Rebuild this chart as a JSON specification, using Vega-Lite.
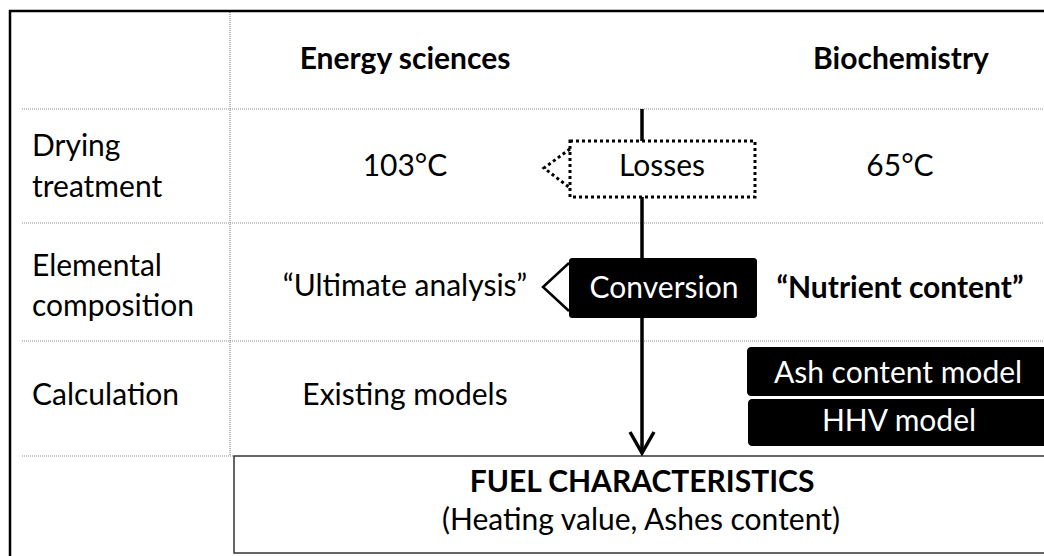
{
  "$schema": "https://vega.github.io/schema/vega-lite/v6.json",
  "width": 1044,
  "height": 556,
  "padding": 0,
  "autosize": {"type": "none"},
  "background": "white",
  "config": {"view": {"stroke": null}, "axis": {"disable": true}},
  "encoding": {
    "x": {"field": "x", "type": "quantitative", "scale": {"domain": [0, 1044], "range": [0, 1044], "zero": false, "nice": false}, "axis": null},
    "y": {"field": "y", "type": "quantitative", "scale": {"domain": [0, 556], "range": [0, 556], "zero": false, "nice": false}, "axis": null}
  },
  "layer": [
    {
      "data": {"values": [
        {"x": 230, "y": 10, "x2": 230, "y2": 456},
        {"x": 22, "y": 109, "x2": 1044, "y2": 109},
        {"x": 22, "y": 223, "x2": 1044, "y2": 223},
        {"x": 22, "y": 341, "x2": 1044, "y2": 341},
        {"x": 22, "y": 456, "x2": 234, "y2": 456}
      ]},
      "mark": {"type": "rule", "color": "#8c8c8c", "strokeWidth": 1.2, "strokeDash": [1, 1]},
      "encoding": {"x2": {"field": "x2"}, "y2": {"field": "y2"}}
    },
    {
      "data": {"values": [
        {"x": 9, "y": 11, "x2": 1044, "y2": 11},
        {"x": 10, "y": 10, "x2": 10, "y2": 556}
      ]},
      "mark": {"type": "rule", "color": "#000000", "strokeWidth": 2.5},
      "encoding": {"x2": {"field": "x2"}, "y2": {"field": "y2"}}
    },
    {
      "data": {"values": [{"x": 642, "y": 109, "x2": 642, "y2": 452}]},
      "mark": {"type": "rule", "color": "#000000", "strokeWidth": 3.5},
      "encoding": {"x2": {"field": "x2"}, "y2": {"field": "y2"}}
    },
    {
      "data": {"values": [{"x": 570, "y": 141, "x2": 755, "y2": 197}]},
      "mark": {"type": "rect", "fill": "white", "stroke": "#000000", "strokeWidth": 3, "strokeDash": [3, 3]},
      "encoding": {"x2": {"field": "x2"}, "y2": {"field": "y2"}}
    },
    {
      "data": {"values": [
        {"x": 570, "y": 149, "o": 1},
        {"x": 544, "y": 168, "o": 2},
        {"x": 570, "y": 188, "o": 3}
      ]},
      "mark": {"type": "line", "color": "#000000", "strokeWidth": 3, "strokeDash": [3, 3]},
      "encoding": {"order": {"field": "o", "type": "quantitative"}}
    },
    {
      "data": {"values": [{"x": 569, "y": 258, "x2": 757, "y2": 318}]},
      "mark": {"type": "rect", "fill": "#000000", "cornerRadius": 3},
      "encoding": {"x2": {"field": "x2"}, "y2": {"field": "y2"}}
    },
    {
      "data": {"values": [
        {"x": 569, "y": 263, "o": 1},
        {"x": 543, "y": 287, "o": 2},
        {"x": 569, "y": 311, "o": 3}
      ]},
      "mark": {"type": "line", "color": "#000000", "strokeWidth": 2.5},
      "encoding": {"order": {"field": "o", "type": "quantitative"}}
    },
    {
      "data": {"values": [
        {"x": 747, "y": 347, "x2": 1050, "y2": 396},
        {"x": 748, "y": 399, "x2": 1050, "y2": 446}
      ]},
      "mark": {"type": "rect", "fill": "#000000", "cornerRadius": 4},
      "encoding": {"x2": {"field": "x2"}, "y2": {"field": "y2"}}
    },
    {
      "data": {"values": [{"x": 234, "y": 456, "x2": 1047, "y2": 553}]},
      "mark": {"type": "rect", "fill": null, "fillOpacity": 0, "stroke": "#333333", "strokeWidth": 1.5},
      "encoding": {"x2": {"field": "x2"}, "y2": {"field": "y2"}}
    },
    {
      "data": {"values": [
        {"x": 630, "y": 432, "o": 1},
        {"x": 642, "y": 453, "o": 2},
        {"x": 654, "y": 432, "o": 3}
      ]},
      "mark": {"type": "line", "color": "#000000", "strokeWidth": 3.5},
      "encoding": {"order": {"field": "o", "type": "quantitative"}}
    },
    {
      "data": {"values": [
        {"x": 405, "y": 176, "t": "103°C"},
        {"x": 900, "y": 176, "t": "65°C"},
        {"x": 662, "y": 176, "t": "Losses"},
        {"x": 405, "y": 296, "t": "“Ultimate analysis”"},
        {"x": 405, "y": 405, "t": "Existing models"},
        {"x": 641, "y": 530, "t": "(Heating value, Ashes content)"}
      ]},
      "mark": {"type": "text", "font": "Lato", "fontSize": 30, "color": "#000000", "align": "center", "baseline": "alphabetic"},
      "encoding": {"text": {"field": "t"}}
    },
    {
      "data": {"values": [
        {"x": 32, "y": 156, "t": "Drying"},
        {"x": 32, "y": 197, "t": "treatment"},
        {"x": 32, "y": 276, "t": "Elemental"},
        {"x": 32, "y": 316, "t": "composition"},
        {"x": 32, "y": 405, "t": "Calculation"}
      ]},
      "mark": {"type": "text", "font": "Lato", "fontSize": 30, "color": "#000000", "align": "left", "baseline": "alphabetic"},
      "encoding": {"text": {"field": "t"}}
    },
    {
      "data": {"values": [
        {"x": 405, "y": 69, "t": "Energy sciences"},
        {"x": 901, "y": 69, "t": "Biochemistry"},
        {"x": 900, "y": 298, "t": "“Nutrient content”"},
        {"x": 642, "y": 492, "t": "FUEL CHARACTERISTICS"}
      ]},
      "mark": {"type": "text", "font": "Lato", "fontSize": 30, "fontWeight": "bold", "color": "#000000", "align": "center", "baseline": "alphabetic"},
      "encoding": {"text": {"field": "t"}}
    },
    {
      "data": {"values": [
        {"x": 664, "y": 298, "t": "Conversion"},
        {"x": 898, "y": 383, "t": "Ash content model"},
        {"x": 899, "y": 431, "t": "HHV model"}
      ]},
      "mark": {"type": "text", "font": "Lato", "fontSize": 30, "color": "#ffffff", "align": "center", "baseline": "alphabetic"},
      "encoding": {"text": {"field": "t"}}
    }
  ]
}
